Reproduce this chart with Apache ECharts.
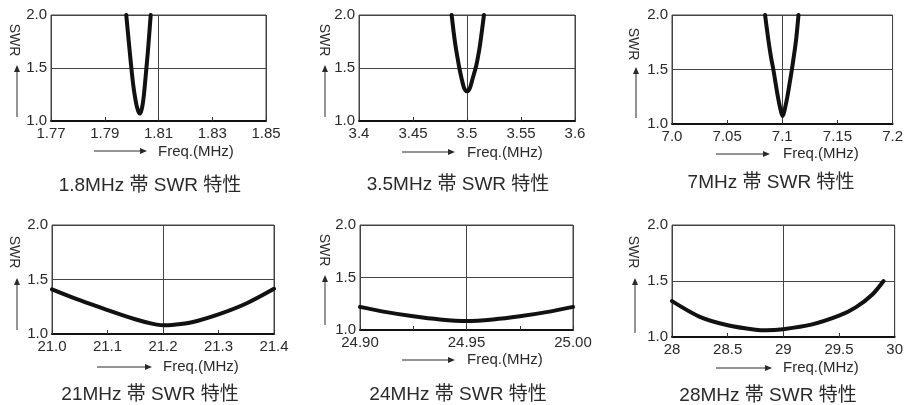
<!DOCTYPE html>
<html><head><meta charset="utf-8">
<script src="https://cdn.jsdelivr.net/npm/echarts@6/dist/echarts.min.js"></script>
<style>html,body{margin:0;padding:0;background:#fff}#c{width:906px;height:405px}</style>
</head><body><div id="c"></div>
<script>
// ---------- data ----------
const titles = ['1.8MHz 帯 SWR 特性', '3.5MHz 帯 SWR 特性', '7MHz 帯 SWR 特性',
                '21MHz 帯 SWR 特性', '24MHz 帯 SWR 特性', '28MHz 帯 SWR 特性'];
const yLabel = 'SWR';
const xLabel = 'Freq.(MHz)';

const freq18 = [1.7980, 1.7986, 1.7992, 1.7999, 1.8006, 1.8013, 1.8019, 1.8025, 1.8030, 1.8035, 1.8040, 1.8045, 1.8050, 1.8055, 1.8060, 1.8065, 1.8071];
const swr18  = [2.00,   1.84,   1.68,   1.50,   1.34,   1.22,   1.14,   1.09,   1.07,   1.09,   1.14,   1.23,   1.36,   1.50,   1.64,   1.80,   2.00];

const freq35 = [3.4858, 3.4875, 3.4895, 3.4915, 3.4929, 3.4950, 3.4970, 3.4985, 3.5000, 3.5015, 3.5030, 3.5052, 3.5080, 3.5097, 3.5118, 3.5138, 3.5157];
const swr35  = [2.00,   1.85,   1.70,   1.58,   1.50,   1.40,   1.32,   1.29,   1.28,   1.29,   1.32,   1.40,   1.50,   1.58,   1.70,   1.85,   2.00];

const freq7 = [7.0844, 7.0862, 7.0881, 7.0900, 7.0919, 7.0940, 7.0960, 7.0978, 7.0992, 7.1003, 7.1014, 7.1028, 7.1046, 7.1066, 7.1087, 7.1106, 7.1126, 7.1147];
const swr7  = [2.00,   1.86,   1.72,   1.60,   1.50,   1.37,   1.25,   1.16,   1.10,   1.075,  1.10,   1.16,   1.25,   1.37,   1.50,   1.63,   1.78,   2.00];

const freq21 = [21.00, 21.05, 21.10, 21.15, 21.18, 21.20, 21.22, 21.25, 21.30, 21.35, 21.40];
const swr21  = [1.41,  1.31,  1.22,  1.135, 1.095, 1.08,  1.085, 1.105, 1.18,  1.28,  1.415];

const freq24 = [24.9000, 24.9125, 24.9250, 24.9375, 24.9500, 24.9625, 24.9750, 24.9875, 25.0000];
const swr24  = [1.22,    1.17,    1.13,    1.10,    1.085,   1.10,    1.13,    1.17,    1.22];

const freq28 = [28.00, 28.25, 28.50, 28.75, 28.85, 29.00, 29.25, 29.50, 29.65, 29.80, 29.90];
const swr28  = [1.32,  1.18,  1.105, 1.065, 1.06,  1.07,  1.11,  1.19,  1.265, 1.38,  1.50];

const xTickVals18 = [1.77, 1.79, 1.81, 1.83, 1.85];
const xTickText18 = ['1.77', '1.79', '1.81', '1.83', '1.85'];
const xTickVals35 = [3.4, 3.45, 3.5, 3.55, 3.6];
const xTickText35 = ['3.4', '3.45', '3.5', '3.55', '3.6'];
const xTickVals7  = [7.0, 7.05, 7.1, 7.15, 7.2];
const xTickText7  = ['7.0', '7.05', '7.1', '7.15', '7.2'];
const xTickVals21 = [21.0, 21.1, 21.2, 21.3, 21.4];
const xTickText21 = ['21.0', '21.1', '21.2', '21.3', '21.4'];
const xTickVals24 = [24.9, 24.925, 24.95, 24.975, 25.0];
const xTickText24 = ['24.90', '', '24.95', '', '25.00'];
const xTickVals28 = [28, 28.5, 29, 29.5, 30];
const xTickText28 = ['28', '28.5', '29', '29.5', '30'];
const yTickVals = [1.0, 1.5, 2.0];
const yTickText = ['1.0', '1.5', '2.0'];

// ---------- assembly ----------
const panels = [
  {f: freq18, s: swr18, tv: xTickVals18, tt: xTickText18},
  {f: freq35, s: swr35, tv: xTickVals35, tt: xTickText35},
  {f: freq7,  s: swr7,  tv: xTickVals7,  tt: xTickText7},
  {f: freq21, s: swr21, tv: xTickVals21, tt: xTickText21},
  {f: freq24, s: swr24, tv: xTickVals24, tt: xTickText24},
  {f: freq28, s: swr28, tv: xTickVals28, tt: xTickText28}
];
// layout (pixels)
const gridBoxes = [
  {left: 51,  top: 15,  width: 215, height: 106},
  {left: 359, top: 15,  width: 216, height: 106},
  {left: 672, top: 15,  width: 222, height: 109},
  {left: 52,  top: 225, width: 222, height: 109},
  {left: 360, top: 225, width: 213, height: 105},
  {left: 672, top: 225, width: 225, height: 112}
];
const swrPos  = [[14, 40], [324, 40], [633, 44], [14, 252], [324, 250], [633, 252]];
const yArrows = [[17, 117, 65], [325, 117, 65], [636, 118, 67], [17, 330, 278], [325, 325, 275], [635, 333, 278]];
const freqPos = [[158, 152], [467, 153], [783, 154], [163, 367], [467, 360], [783, 368]];
const xArrows = [[94, 147, 151], [402, 455, 152], [716, 770, 154], [97, 152, 367], [402, 455, 360], [716, 772, 368]];
const titlePos = [[150, 186], [458, 185], [771, 183], [150, 395], [458, 395], [768, 396]];

const FONT = "'Liberation Sans','Noto Sans CJK JP',sans-serif";
const TXT = '#2a2a2a';

function labelFor(vals, texts) {
  return function (v) {
    const i = vals.findIndex(t => Math.abs(t - v) < 1e-6);
    return i >= 0 ? texts[i] : '';
  };
}

const grid = [], xAxis = [], yAxis = [], series = [], graphic = [];
panels.forEach((p, i) => {
  const b = gridBoxes[i];
  grid.push(Object.assign({show: true, borderColor: '#444', borderWidth: 1, backgroundColor: '#fff'}, b));
  const xmin = p.tv[0], xmax = p.tv[p.tv.length - 1];
  xAxis.push({
    type: 'value', gridIndex: i, min: xmin, max: xmax, interval: p.tv[1] - p.tv[0],
    axisLine: {show: true, onZero: false, lineStyle: {color: '#111', width: 2}},
    axisTick: {show: true, inside: true, length: 4, lineStyle: {color: '#333', width: 1}},
    splitLine: {show: false},
    axisLabel: {show: true, margin: 5, fontSize: 15, color: TXT, fontFamily: FONT,
                formatter: labelFor(p.tv, p.tt), showMinLabel: true, showMaxLabel: true, hideOverlap: false}
  });
  yAxis.push({
    type: 'value', gridIndex: i, min: yTickVals[0], max: yTickVals[2], interval: yTickVals[1] - yTickVals[0],
    axisLine: {show: false}, axisTick: {show: false},
    splitLine: {show: true, lineStyle: {color: '#444', width: 1}},
    axisLabel: {show: true, margin: 4, fontSize: 15, color: TXT, fontFamily: FONT,
                formatter: labelFor(yTickVals, yTickText)}
  });
  series.push({
    type: 'line', xAxisIndex: i, yAxisIndex: i,
    data: p.f.map((f, k) => [f, p.s[k]]),
    showSymbol: false, symbol: 'none', smooth: 0.3, clip: true,
    lineStyle: {color: '#111', width: 4, cap: 'round', join: 'round'},
    z: 5
  });
});
// hidden axes that only draw the centre vertical grid line
panels.forEach((p, i) => {
  const xmin = p.tv[0], xmax = p.tv[p.tv.length - 1];
  xAxis.push({
    type: 'value', gridIndex: i, min: xmin, max: xmax, interval: (xmax - xmin) / 2, position: 'top',
    axisLine: {show: false}, axisTick: {show: false}, axisLabel: {show: false},
    splitLine: {show: true, lineStyle: {color: '#444', width: 1}}
  });
});

panels.forEach((p, i) => {
  graphic.push({type: 'text', x: swrPos[i][0], y: swrPos[i][1], rotation: -Math.PI / 2,
    style: {text: yLabel, fontSize: 14, fill: TXT, fontFamily: FONT, align: 'center', verticalAlign: 'middle'}});
  const [ax, ay1, ay2] = yArrows[i];
  graphic.push({type: 'line', shape: {x1: ax, y1: ay1, x2: ax, y2: ay2 + 5}, style: {stroke: TXT, lineWidth: 1}});
  graphic.push({type: 'polygon', shape: {points: [[ax, ay2], [ax - 3, ay2 + 7], [ax + 3, ay2 + 7]]}, style: {fill: TXT}});
  graphic.push({type: 'text', x: freqPos[i][0], y: freqPos[i][1],
    style: {text: xLabel, fontSize: 15, fill: TXT, fontFamily: FONT, align: 'left', verticalAlign: 'middle'}});
  const [hx1, hx2, hy] = xArrows[i];
  graphic.push({type: 'line', shape: {x1: hx1, y1: hy, x2: hx2 - 5, y2: hy}, style: {stroke: TXT, lineWidth: 1}});
  graphic.push({type: 'polygon', shape: {points: [[hx2, hy], [hx2 - 7, hy - 3], [hx2 - 7, hy + 3]]}, style: {fill: TXT}});
  graphic.push({type: 'text', x: titlePos[i][0], y: titlePos[i][1],
    style: {text: titles[i], fontSize: 19, fill: TXT, fontFamily: FONT, align: 'center', verticalAlign: 'middle'}});
});

const chart = echarts.init(document.getElementById('c'), null, {renderer: 'canvas'});
chart.setOption({
  animation: false,
  backgroundColor: '#fff',
  textStyle: {fontFamily: FONT},
  grid, xAxis, yAxis, series, graphic
});
</script>
</body></html>
